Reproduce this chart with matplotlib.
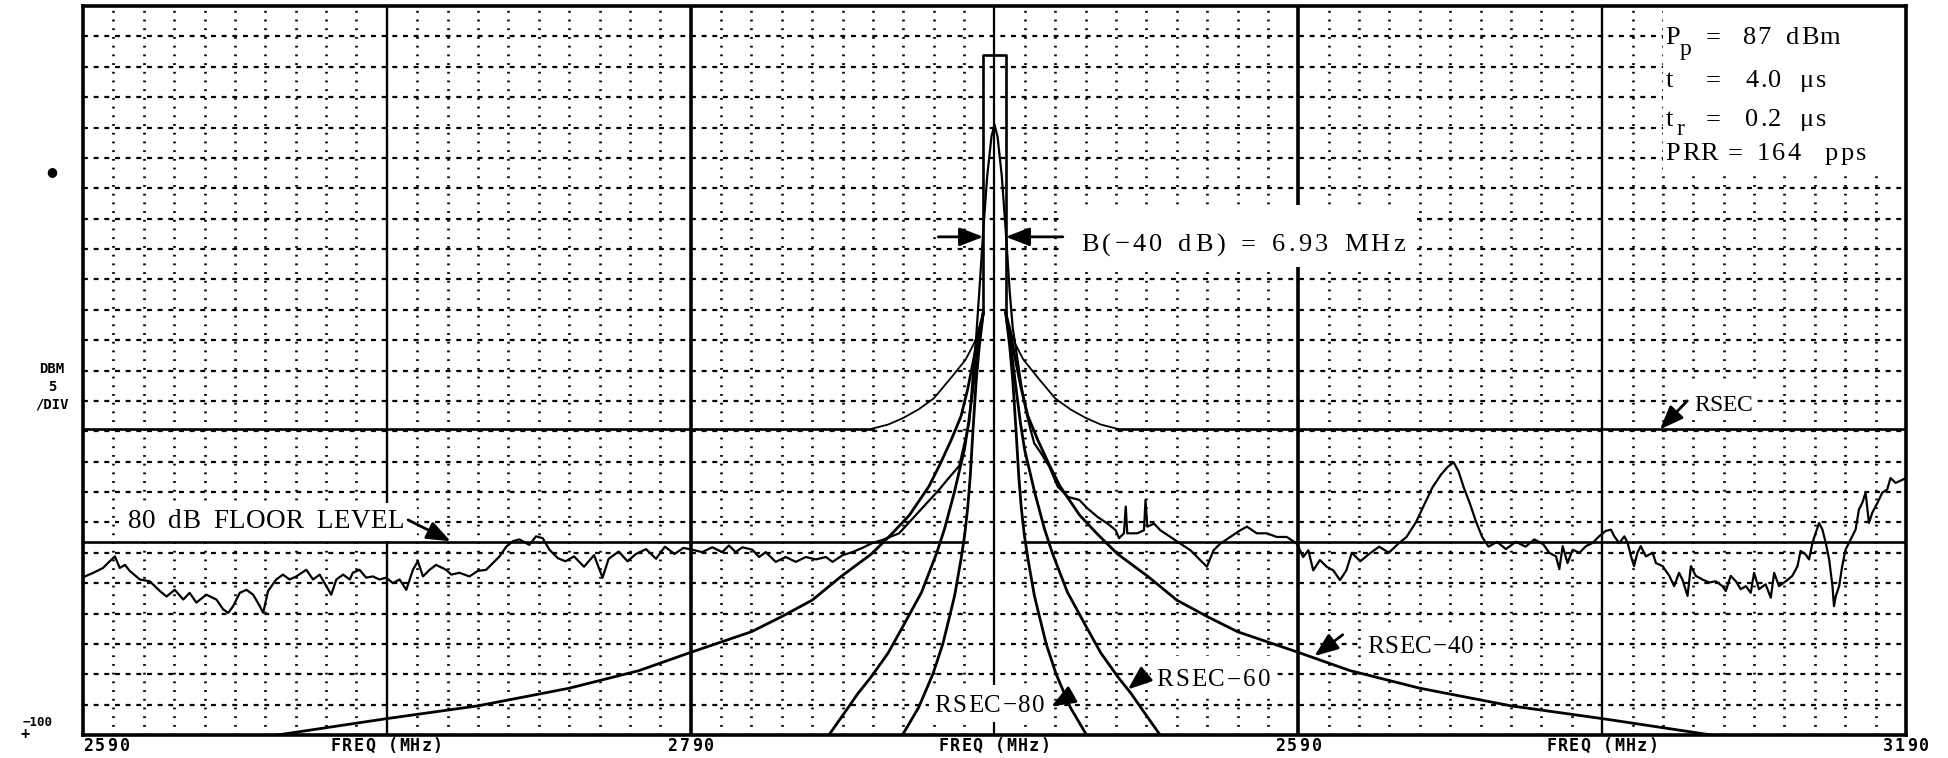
import matplotlib
matplotlib.use('Agg')
import matplotlib.pyplot as plt
from matplotlib.patches import Rectangle
from matplotlib import font_manager as fm
from matplotlib.ft2font import FT2Font

# ---------------- data ----------------
x_min, x_max = 2590, 3190          # MHz
y_min, y_max = -100, 20            # dBm, 5 dB / div
center_freq = 2890
solid_freqs = [2690, 3090]
panel_freqs = [2790, 2990]
x_tick_pos = [2597.7, 2690, 2790, 2890, 2990, 3090, 3190]
x_tick_txt = ['2590', 'FREQ (MHz)', '2790', 'FREQ (MHz)', '2590', 'FREQ (MHz)', '3190']

rsec_level = -49.6
floor_level = -68.3
floor_notch_half = 9.0
rect_half = 3.7
rect_top = 12.0

# symmetric masks: offset from centre (MHz) -> level (dB)
rsec_off = [3.7, 5.0, 7.0, 9.5, 14.3, 20.0, 25.0, 30.0, 35.0, 40.5]
rsec_db = [-30.5, -33.5, -35.8, -38.2, -41.2, -44.6, -46.4, -47.8, -48.9, -49.6]

rsec40_off = [3.7, 5.2, 6.6, 8.8, 11.0, 14.3, 18.0, 21.5, 28.0, 34.0, 40.5, 50.5, 60.0, 70.0, 80.0, 100.0, 117.0, 140.0, 170.0, 200.0, 236.0]
rsec40_db = [-30.5, -33.5, -37.5, -43.0, -47.5, -51.5, -55.5, -59.0, -63.8, -67.0, -70.2, -73.9, -77.8, -80.5, -83.0, -86.4, -89.4, -92.3, -95.2, -97.3, -100.0]

rsec60_off = [3.7, 5.5, 7.1, 8.5, 9.9, 13.2, 16.4, 19.0, 24.0, 30.0, 35.0, 40.7, 45.0, 50.0, 54.5]
rsec60_db = [-30.5, -36.5, -43.0, -48.5, -53.0, -60.0, -66.0, -70.0, -76.5, -82.0, -86.5, -90.5, -93.2, -96.8, -100.0]

rsec80_off = [3.7, 5.0, 6.0, 7.1, 8.0, 8.8, 9.8, 11.0, 13.1, 14.3, 17.0, 20.3, 25.0, 30.3]
rsec80_db = [-30.5, -36.0, -41.5, -50.0, -57.5, -62.5, -67.0, -71.0, -77.0, -79.5, -85.0, -90.0, -95.5, -100.0]

# measured spectrum trace
trace_freq = [
    2590.6, 2593.4, 2596.6, 2598.8, 2600.5, 2602.1, 2603.8, 2605.4, 2608.7, 2612.0, 2615.3, 2617.5, 2620.2,
    2623.0, 2625.1, 2627.3, 2630.6, 2633.9, 2636.1, 2637.8, 2639.4, 2641.6, 2643.8, 2646.0, 2648.2, 2649.3,
    2650.9, 2653.6, 2655.8, 2658.0, 2660.2, 2663.5, 2665.7, 2667.9, 2670.1, 2671.7, 2673.4, 2675.6, 2677.8,
    2678.8, 2681.0, 2683.2, 2685.4, 2687.6, 2689.8, 2692.0, 2694.2, 2696.4, 2698.6, 2700.2, 2701.9, 2704.1,
    2706.2, 2709.5, 2711.2, 2713.9, 2717.2, 2719.9, 2722.7, 2724.9, 2727.1, 2729.3, 2731.5, 2733.6, 2736.9,
    2739.1, 2741.3, 2743.5, 2746.3, 2748.8, 2751.6, 2754.9, 2758.2, 2761.0, 2763.0, 2766.3, 2769.2, 2772.0,
    2775.3, 2778.6, 2781.5, 2784.7, 2787.6,
    2790.5, 2793.8, 2797.1, 2800.4, 2802.6, 2804.8, 2807.0, 2810.3, 2812.5, 2814.7, 2818.0, 2821.3, 2824.6,
    2827.9, 2831.2, 2834.5, 2836.7, 2840.0, 2843.2, 2846.5, 2849.8, 2853.1, 2858.6, 2863.0, 2867.4, 2871.8,
    2875.1, 2878.4, 2880.6, 2881.7, 2882.8, 2883.9, 2885.0, 2886.3, 2887.6, 2889.0, 2890.0, 2891.0, 2892.4,
    2893.7, 2895.0, 2896.0, 2897.5, 2899.0, 2900.5, 2902.0,
    2903.1, 2905.3, 2908.0, 2910.8, 2914.1, 2917.9, 2920.6, 2923.9, 2927.2, 2929.9, 2931.0, 2932.6, 2933.2,
    2933.7, 2937.0, 2939.2, 2939.7, 2940.3, 2942.5, 2944.6, 2947.9, 2951.2, 2954.5, 2956.7, 2959.9, 2962.1,
    2964.3, 2967.6, 2970.9, 2973.1, 2976.3, 2979.6, 2982.9, 2986.2, 2989.5, 2991.6, 2993.3, 2994.9, 2997.1,
    2999.3, 3001.5, 3003.7,
    3005.8, 3007.6, 3010.4, 3013.3, 3016.6, 3019.8, 3022.7, 3025.6, 3028.8, 3031.7, 3034.2, 3037.0, 3039.1,
    3041.1, 3042.8, 3044.4, 3046.4, 3048.5, 3050.5, 3052.6, 3055.4, 3058.3, 3061.6, 3064.8, 3067.7, 3070.6,
    3072.6, 3074.8, 3075.9, 3077.0, 3078.6, 3080.3, 3082.5, 3084.7, 3086.8, 3089.0, 3091.2, 3092.9, 3094.0,
    3095.6, 3097.3, 3098.4, 3099.5, 3100.5, 3101.6, 3102.7, 3104.4, 3106.6, 3107.7, 3109.9, 3112.1, 3113.7,
    3115.3, 3116.4, 3118.1, 3119.2, 3120.8, 3123.0, 3125.2, 3127.4, 3129.6, 3130.7, 3132.3, 3134.0, 3135.6,
    3137.3, 3138.9, 3140.0, 3141.6, 3143.8, 3145.5, 3146.6, 3148.2, 3150.4, 3152.6, 3154.3, 3155.3, 3157.0,
    3158.1, 3159.2, 3160.3, 3161.4, 3162.5, 3163.6, 3164.7, 3165.8, 3166.3, 3166.9, 3168.0, 3169.0, 3170.1,
    3171.2, 3172.3, 3173.4, 3174.5, 3175.6, 3176.7, 3177.8, 3178.9, 3180.6, 3182.2, 3183.8, 3184.9, 3186.6,
    3188.8, 3189.9]
trace_dbm = [
    -73.9, -73.3, -72.5, -71.4, -70.6, -72.5, -72.0, -73.0, -74.4, -74.7, -76.3, -77.2, -76.1,
    -77.7, -76.6, -78.2, -76.9, -77.7, -79.3, -79.9, -78.8, -76.6, -76.1, -76.9, -78.8, -79.9,
    -76.3, -74.4, -73.6, -74.4, -73.9, -72.8, -74.4, -73.6, -75.5, -76.9, -74.4, -73.6, -74.4,
    -73.3, -72.8, -74.1, -73.9, -74.4, -74.1, -75.0, -74.4, -76.1, -72.8, -71.4, -73.9, -72.8,
    -72.0, -72.8, -73.6, -73.3, -73.9, -73.0, -72.8, -71.7, -70.6, -69.0, -68.1, -67.8, -68.7,
    -67.3, -67.6, -69.5, -70.9, -71.4, -70.6, -72.3, -70.4, -74.1, -71.0, -69.8, -71.4, -70.2,
    -69.4, -71.0, -69.0, -70.2, -69.2,
    -69.5, -69.9, -69.1, -69.9, -68.8, -69.9, -69.1, -69.5, -70.7, -69.9, -71.5, -70.7, -71.5,
    -70.7, -71.1, -70.7, -71.5, -70.4, -69.9, -69.2, -68.4, -67.9, -66.8, -64.4, -62.0, -59.6,
    -57.6, -55.7, -50.9, -48.5, -41.4, -35.0, -27.0, -17.0, -8.0, -1.5, 0.5, -1.5, -8.0,
    -17.0, -27.0, -33.0, -38.0, -43.0, -47.0, -50.0,
    -52.0, -53.6, -55.8, -59.1, -60.8, -61.3, -62.7, -64.1, -65.2, -66.3, -67.6, -66.8, -62.4,
    -66.8, -66.8, -66.3, -61.3, -65.7, -65.2, -66.3, -67.4, -68.5, -69.6, -70.7, -72.3, -69.6,
    -68.5, -67.4, -66.3, -65.7, -66.8, -66.8, -67.4, -67.4, -68.5, -70.7, -69.6, -72.9, -71.2,
    -72.3, -72.9, -74.5,
    -72.9, -70.0, -71.4, -70.2, -69.0, -70.0, -68.6, -67.4, -64.9, -61.8, -59.2, -57.1, -55.9,
    -55.1, -56.7, -59.2, -61.8, -64.9, -67.4, -69.0, -68.2, -69.4, -68.2, -69.0, -67.8, -68.6,
    -70.0, -70.6, -72.7, -68.9, -71.7, -69.5, -70.0, -68.9, -68.4, -67.3, -66.4, -66.2, -67.3,
    -68.4, -67.3, -68.4, -70.6, -72.2, -70.0, -68.9, -70.6, -70.0, -71.7, -72.2, -73.8, -75.5,
    -73.3, -74.4, -77.1, -72.2, -73.8, -74.4, -74.9, -74.7, -75.5, -76.3, -73.8, -74.7, -76.0,
    -75.5, -76.6, -73.3, -76.0, -75.2, -77.4, -73.3, -75.5, -74.7, -73.8, -72.2, -69.7, -70.3,
    -71.1, -68.4, -66.7, -65.1, -66.2, -68.4, -71.1, -75.5, -78.8, -77.1, -75.5, -72.2, -69.5,
    -68.4, -67.3, -66.2, -62.9, -61.8, -60.1, -65.1, -63.4, -61.8, -60.1, -59.6, -57.7, -58.5,
    -58.0, -57.7]

# ---------------- helpers ----------------
W, H = 1949, 758
AX_LEFT, AX_RIGHT, AX_TOP, AX_BOTTOM = 83, 1906, 6, 735
PT_PER_MHZ = (AX_RIGHT - AX_LEFT) / (x_max - x_min) * 0.72
SERIF = 'Liberation Serif'
MONO = 'DejaVu Sans Mono'
_fonts = {}


def _font(family, weight):
    key = (family, weight)
    if key not in _fonts:
        _fonts[key] = FT2Font(fm.findfont(fm.FontProperties(family=family, weight=weight)))
    return _fonts[key]


def advance(ch, size, family, weight):
    ft = _font(family, weight)
    ft.set_size(size, 72)
    return ft.load_char(ord(ch)).linearHoriAdvance / 65536.0


def typed(ax, x0, y, s, size, x1=None, track=0.0, sp_extra=0.0, family=SERIF,
          weight='normal', xycoords='data', zorder=6):
    """Letter-spaced text.  If x1 is given, tracking is fitted so the text spans x0..x1."""
    advs = [advance(ch, size, family, weight) for ch in s]
    nsp = s.count(' ')
    if x1 is not None and len(s) > 1:
        target = (x1 - x0) * PT_PER_MHZ
        track = (target - sum(advs) - sp_extra * nsp) / (len(s) - 1)
    off = 0.0
    for ch, a in zip(s, advs):
        if ch == ' ':
            off += a + track + sp_extra
            continue
        ax.annotate(ch, (x0, y), xycoords=xycoords, xytext=(off + a / 2.0, 0),
                    textcoords='offset points', ha='center', va='baseline',
                    fontsize=size, family=family, weight=weight, color='k',
                    zorder=zorder, annotation_clip=False)
        off += a + track


def mirrored(offs, dbs, side):
    return [center_freq + side * o for o in offs], dbs


def white_box(ax, x0, y0, x1, y1):
    ax.add_patch(Rectangle((x0, y0), x1 - x0, y1 - y0, facecolor='white',
                           edgecolor='none', zorder=2))


def arrow(ax, tail, head, lw=2.0, ms=16):
    ax.annotate('', xy=head, xytext=tail,
                arrowprops=dict(arrowstyle='-|>,head_length=0.9,head_width=0.35',
                                lw=lw, color='k', shrinkA=0, shrinkB=0,
                                mutation_scale=ms), zorder=5)


# ---------------- figure ----------------
fig = plt.figure(figsize=(W / 100, H / 100), dpi=100, facecolor='white')
ax = fig.add_axes([AX_LEFT / W, (H - AX_BOTTOM) / H, (AX_RIGHT - AX_LEFT) / W, (AX_BOTTOM - AX_TOP) / H])
ax.set_xlim(x_min, x_max)
ax.set_ylim(y_min, y_max)
ax.set_xticks([])
ax.set_yticks([])
for sp in ax.spines.values():
    sp.set_linewidth(2.6)
    sp.set_color('k')
    sp.set_zorder(7)

# graticule
for f in range(x_min + 10, x_max, 10):
    if f in solid_freqs or f in panel_freqs or f == center_freq:
        continue
    ax.axvline(f, color='k', lw=1.9, ls=(0, (0.7, 2.6)), zorder=1)
for yv in range(y_min + 5, y_max, 5):
    ax.axhline(yv, color='k', lw=1.6, ls=(0, (2.2, 2.6)), zorder=1)
for f in solid_freqs:
    ax.axvline(f, color='k', lw=1.7, zorder=1)
for f in panel_freqs:
    ax.axvline(f, color='k', lw=2.6, zorder=1)
ax.axvline(center_freq, color='k', lw=1.6, zorder=1)

# white backgrounds behind annotations
white_box(ax, 3110.0, -7.5, x_max, y_max)         # parameter block
white_box(ax, 2912.0, -23.0, 3029.0, -12.8)       # bandwidth text
white_box(ax, 2602.0, -68.0, 2700.0, -61.8)       # floor text
white_box(ax, 3118.0, -47.5, 3141.0, -42.0)       # RSEC
white_box(ax, 3010.5, -88.0, 3049.0, -81.5)       # RSEC-40
white_box(ax, 2941.5, -93.5, 2982.0, -87.0)       # RSEC-60
white_box(ax, 2868.5, -97.9, 2907.5, -91.7)       # RSEC-80

# RSEC mask and floor
ax.plot([x_min, center_freq - rsec_off[-1]], [rsec_level, rsec_level], color='k', lw=1.9, zorder=3)
ax.plot([center_freq + rsec_off[-1], x_max], [rsec_level, rsec_level], color='k', lw=1.9, zorder=3)
for side in (-1, 1):
    xs, ys = mirrored(rsec_off, rsec_db, side)
    ax.plot(xs, ys, color='k', lw=1.3, zorder=3)
ax.plot([x_min, center_freq - floor_notch_half], [floor_level, floor_level], color='k', lw=1.9, zorder=3)
ax.plot([center_freq + floor_notch_half, x_max], [floor_level, floor_level], color='k', lw=1.9, zorder=3)
ax.plot([center_freq - rect_half, center_freq - rect_half, center_freq + rect_half, center_freq + rect_half],
        [rsec_db[0], rect_top, rect_top, rsec_db[0]], color='k', lw=1.9, zorder=3)

for offs, dbs in ((rsec40_off, rsec40_db), (rsec60_off, rsec60_db), (rsec80_off, rsec80_db)):
    for side in (-1, 1):
        xs, ys = mirrored(offs, dbs, side)
        ax.plot(xs, ys, color='k', lw=2.0, zorder=3)

# measured trace
ax.plot(trace_freq, trace_dbm, color='k', lw=1.6, zorder=4)

# annotations
typed(ax, 2604.8, -66.0, '80 dB FLOOR LEVEL', 19.5, x1=2695.6, sp_extra=3.5)
arrow(ax, (2697.0, -64.6), (2711.0, -68.1))
typed(ax, 2918.6, -20.4, 'B(\u221240 dB) = 6.93 MHz', 19.0, x1=3025.0, sp_extra=2.0)
arrow(ax, (2871.5, -18.0), (center_freq - rect_half, -18.0))
arrow(ax, (2912.5, -18.0), (center_freq + rect_half, -18.0))
typed(ax, 3120.3, -46.6, 'RSEC', 17, x1=3139.5)
arrow(ax, (3118.0, -45.0), (3109.0, -49.7))
typed(ax, 3012.7, -86.5, 'RSEC\u221240', 18, x1=3047.5)
arrow(ax, (3004.6, -83.5), (2995.3, -87.0))
typed(ax, 2943.2, -92.0, 'RSEC\u221260', 18, x1=2980.8)
arrow(ax, (2939.9, -90.0), (2933.9, -92.5))
typed(ax, 2870.3, -96.2, 'RSEC\u221280', 18, x1=2906.3)
arrow(ax, (2914.7, -93.6), (2908.7, -95.3))

# parameter block
PS = 19
PT = 1.0
def ptext(x, y, s, size=PS):
    ax.text(x, y, s, fontsize=size, family=SERIF, va='baseline', ha='left', zorder=6)

ptext(3110.9, 13.8, 'P')
ptext(3115.6, 12.0, 'p', 17)
ptext(3124.0, 13.8, '=')
typed(ax, 3136.3, 13.8, '87', PS, track=PT)
typed(ax, 3150.6, 13.8, 'dBm', PS, track=PT)
ptext(3110.9, 6.6, 't')
ptext(3124.0, 6.6, '=')
typed(ax, 3137.1, 6.6, '4.0', PS, track=PT)
typed(ax, 3155.1, 6.6, '\u03bcs', PS, track=PT)
ptext(3110.9, 0.2, 't')
ptext(3114.6, -1.2, 'r', 17)
ptext(3124.0, 0.2, '=')
typed(ax, 3137.1, 0.2, '0.2', PS, track=PT)
typed(ax, 3155.1, 0.2, '\u03bcs', PS, track=PT)
typed(ax, 3110.9, -5.4, 'PRR', PS, track=PT)
ptext(3131.2, -5.4, '=')
typed(ax, 3140.8, -5.4, '164', PS, track=1.8)
typed(ax, 3163.3, -5.4, 'pps', PS, track=1.8)

# x labels (dot-matrix style, letter-spaced)
xt = ax.get_xaxis_transform()
for pos, lab in zip(x_tick_pos, x_tick_txt):
    half = 18.4 if len(lab) > 4 else 7.7
    typed(ax, pos - half, -0.022, lab, 12, x1=pos + half, family=MONO, weight='bold',
          xycoords=xt, zorder=8)

# y labels (figure pixels)
def ftext(px, py, s, **kw):
    fig.text(px / W, 1 - py / H, s, ha='center', va='center', **kw)

ftext(52, 171.5, '\u25cf', fontsize=9, family='DejaVu Sans')
ftext(52, 369, 'DBM', fontsize=10, family=MONO, weight='bold')
ftext(52, 387, '5', fontsize=10, family=MONO, weight='bold')
ftext(52, 404, '/DIV', fontsize=10, family=MONO, weight='bold')
ftext(38, 722, '\u2212100', fontsize=9, family=MONO, weight='bold')
ftext(25, 734, '+', fontsize=11, family=MONO, weight='bold')

fig.savefig('out.png', dpi=100, facecolor='white')
